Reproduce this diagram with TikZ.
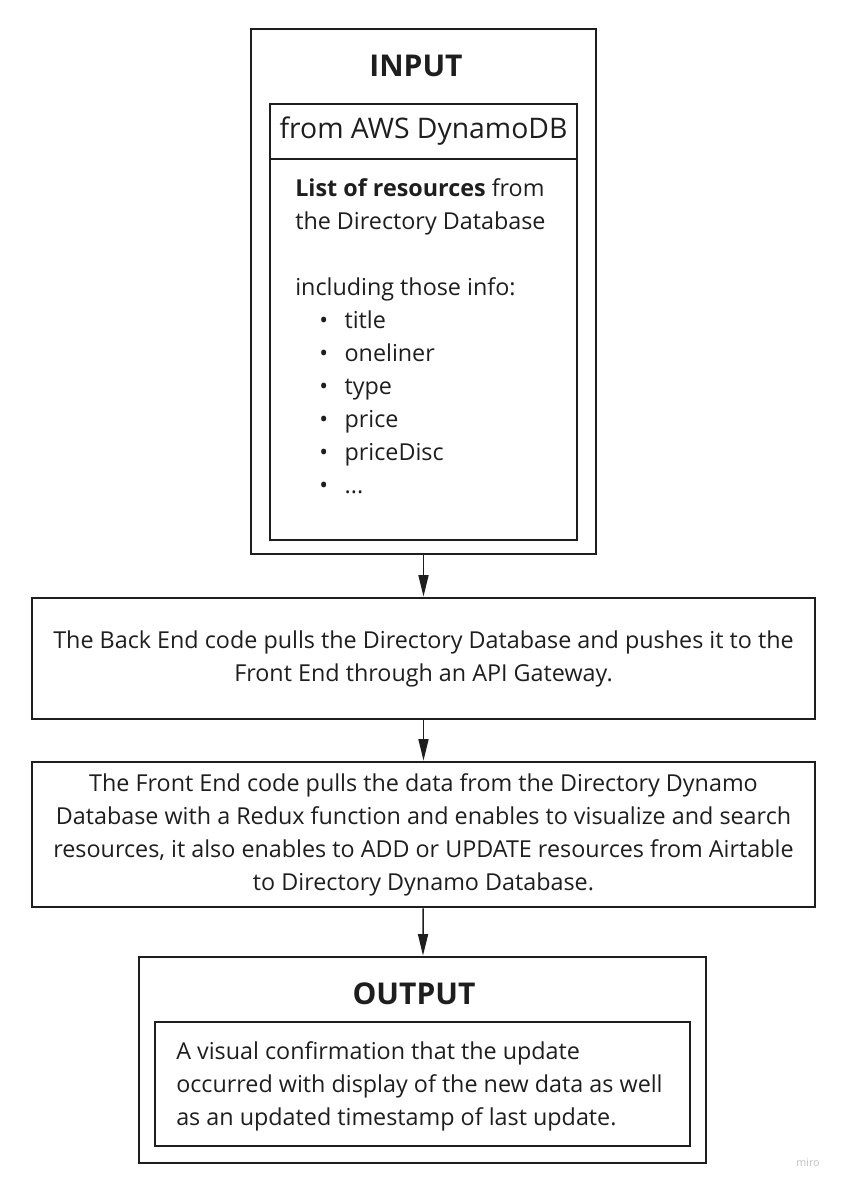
\documentclass[tikz,border=0pt]{standalone}
\usepackage{fontspec}
\setmainfont{Open Sans}
\usepackage{tikz}
\usetikzlibrary{arrows.meta}
\definecolor{ink}{HTML}{1E1E1E}

\begin{document}
\begin{tikzpicture}[x=0.75pt, y=-0.75pt, box/.style = {draw=ink, line width=2.2pt, inner sep=0pt}, flow/.style = {-{Triangle[length=16pt,width=7.5pt]}, line width=1.1pt, ink}]
\useasboundingbox (0,0) rectangle (841,1188);
					\begin{scope}[every node/.style={text=ink, font=\fontsize{17.5pt}{24.75pt}\selectfont}]
						% input block
						\node[box, minimum width=258.75pt, minimum height=393.75pt] (input) at (423.5,291.5) {};
						\node[font=\bfseries\fontsize{22.5pt}{26pt}\selectfont] (inputtitle) at (416,66) {INPUT};
						\node[box, minimum width=230.25pt, minimum height=41.25pt, font=\fontsize{21.25pt}{24pt}\selectfont] (source) at (423.5,131.5) {from AWS DynamoDB};
						\node[box, minimum width=230.25pt, minimum height=285.75pt] (resources) at (423.5,349.5) {};
						\node[anchor=north west, inner sep=0pt, align=left] (fields) at (295,178) {\textbf{List of resources} from\\the Directory Database\\[24.75pt]including those info:\\
							\hspace*{18pt}\makebox[19pt][l]{•}title\\
							\hspace*{18pt}\makebox[19pt][l]{•}oneliner\\
							\hspace*{18pt}\makebox[19pt][l]{•}type\\
							\hspace*{18pt}\makebox[19pt][l]{•}price\\
							\hspace*{18pt}\makebox[19pt][l]{•}priceDisc\\
							\hspace*{18pt}\makebox[19pt][l]{•}...};
						% processing steps
						\node[box, minimum width=587.25pt, minimum height=90.75pt, align=center] (backend) at (423.5,658.5) {The Back End code pulls the Directory Database and pushes it to the\\Front End through an API Gateway.};
						\node[box, minimum width=587.25pt, minimum height=108.75pt, align=center] (frontend) at (423.5,834.5) {The Front End code pulls the data from the Directory Dynamo\\Database with a Redux function and enables to visualize and search\\resources, it also enables to ADD or UPDATE resources from Airtable\\to Directory Dynamo Database.};
						% output block
						\node[box, minimum width=425.25pt, minimum height=154.5pt] (output) at (422.5,1060) {};
						\node[font=\bfseries\fontsize{22.5pt}{26pt}\selectfont] (outputtitle) at (414,994) {OUTPUT};
						\node[box, minimum width=401.25pt, minimum height=93pt] (result) at (422.5,1084) {};
						\node[anchor=north west, inner sep=0pt, align=left] (resulttext) at (176,1041.5) {A visual confirmation that the update\\occurred with display of the new data as well\\as an updated timestamp of last update.};
					\end{scope}
					\node[text=black!25, font=\fontsize{8pt}{8pt}\selectfont] (miro) at (808,1163) {miro};
					\draw [flow] (input) -- (backend);
					\draw [flow] (backend) -- (frontend);
					\draw [flow] (frontend) -- (output);
				\end{tikzpicture}
\end{document}
